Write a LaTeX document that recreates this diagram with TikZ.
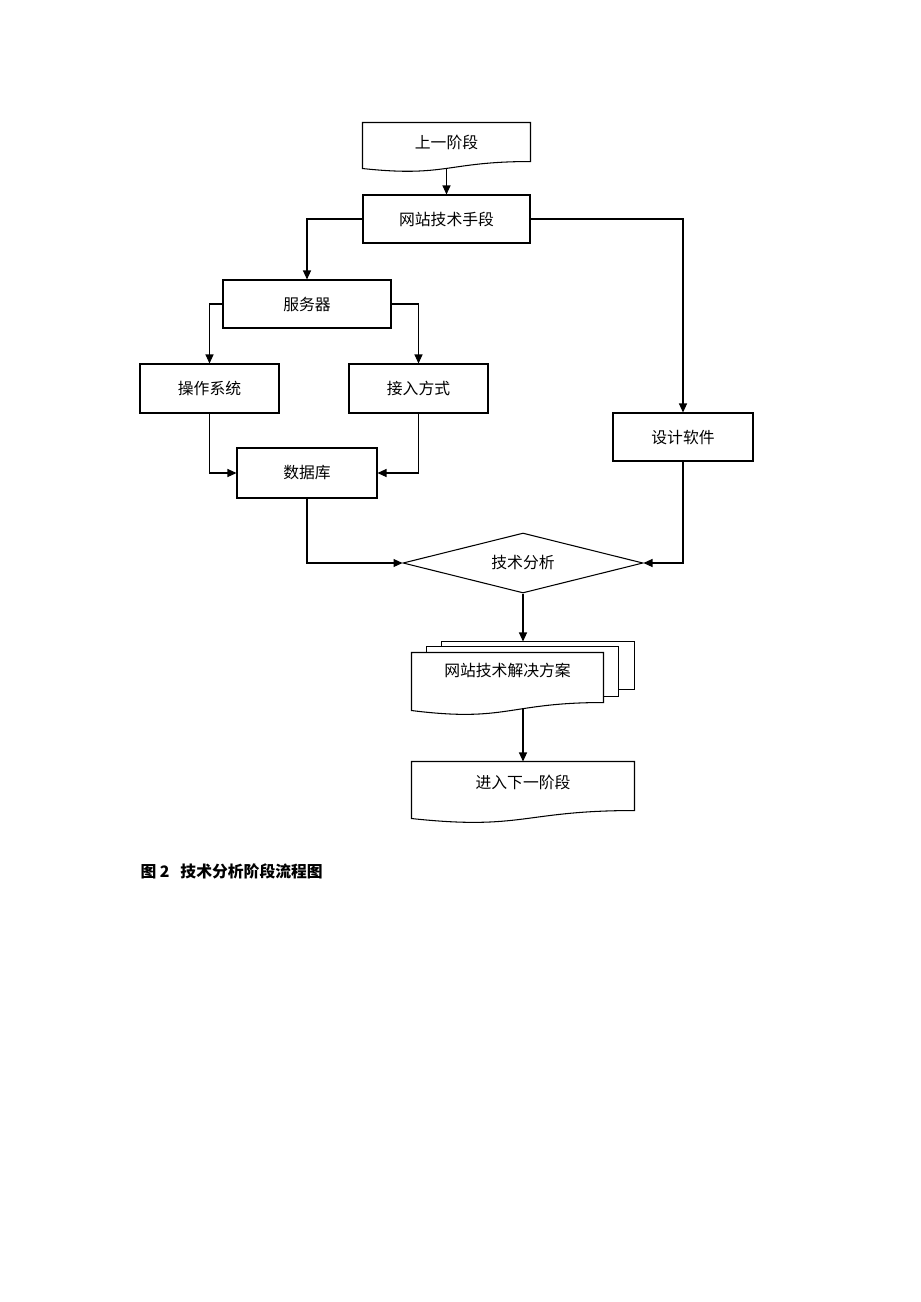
\documentclass[tikz,border=0pt]{standalone}
\usepackage{fontspec}
\setmainfont{Noto Sans CJK SC}
\usepackage{tikz}
\usetikzlibrary{arrows.meta, shapes}

% document outline: node, right drop, left drop, control drop, pos of wave point
\newcommand{\docoutline}[5]{%
  \draw (#1.north west) -- (#1.north east) -- ([yshift=-#2]#1.south east)
    .. controls ([yshift=-#2]#1.south) and ([yshift=-#4]#1.south) .. ([yshift=-#3]#1.south west)
    coordinate[pos=#5] (#1-wave) -- cycle;}

\tikzset{hv/.style={to path={-| (\tikztotarget)}},
         vh/.style={to path={|- (\tikztotarget)}}}

\begin{document}
\begin{tikzpicture}[x=0.02cm, y=-0.02cm, line width=0.6pt]
\useasboundingbox (0,0) rectangle (920,1302);
\begin{scope}[every node/.style={rectangle,draw,inner sep=0,font=\fontsize{9pt}{11pt}\selectfont}]
  \node[draw=none, minimum width=3.34cm, minimum height=0.76cm] (prev) at (446.5,142) {上一阶段};
    \node[minimum width=3.34cm, minimum height=0.96cm] (web) at (446.5,219) {网站技术手段};
    \node[minimum width=3.36cm, minimum height=0.96cm] (server) at (307,304) {服务器};
    \node[minimum width=2.78cm, minimum height=0.98cm] (os) at (209.5,388.5) {操作系统};
    \node[minimum width=2.78cm, minimum height=0.98cm] (access) at (418.5,388.5) {接入方式};
    \node[minimum width=2.8cm, minimum height=1.0cm] (db) at (307,473) {数据库};
    \node[minimum width=2.8cm, minimum height=0.96cm] (design) at (683,437) {设计软件};
    \node[shape=diamond, aspect=4, minimum width=4.8cm, minimum height=1.2cm] (analysis) at (523,563) {技术分析};
    \node[draw=none, minimum width=3.82cm, minimum height=0.68cm] (plan) at (507.5,670) {网站技术解决方案};
    \node[draw=none, minimum width=4.44cm, minimum height=0.8cm] (next) at (523,782) {进入下一阶段};
    \node[draw=none, anchor=west, font=\fontsize{9pt}{11pt}\selectfont\bfseries] (caption) at (140,871) {图 2\ \ \ 技术分析阶段流程图};
\end{scope}

\docoutline{prev}{0cm}{0.14cm}{0.32cm}{0.5}
\docoutline{plan}{0.3cm}{0.46cm}{0.7cm}{0.4}
\docoutline{next}{0.16cm}{0.32cm}{0.56cm}{0.5}
% sheets behind the plan
\draw ([shift={(15,0)}]plan.north west) -- ([shift={(15,-6)}]plan.north west)
  -- ([shift={(15,-6)}]plan.north east) -- ([shift={(15,9)}]plan.south east) -- ([shift={(0,9)}]plan.south east);
\coordinate (plan-back) at ([shift={(30,-11)}]plan.north west);
\draw ([shift={(30,-6)}]plan.north west) -- (plan-back)
  -- ([shift={(31,-11)}]plan.north east) -- ([shift={(31,2)}]plan.south east) -- ([shift={(15,2)}]plan.south east);

\begin{scope}[>={Triangle[length=1.8mm, width=1.6mm]},
              every edge/.style={draw=black, line width=0.6pt}]
    \path[->] (prev-wave) edge (web.north);
    \path[->] (web.west) edge[hv] (server.north);
    \path[->] (web.east) edge[hv] (design.north);
    \path[->] (server.west) edge[hv] (os.north);
    \path[->] (server.east) edge[hv] (access.north);
    \path[->] (os.south) edge[vh] (db.west);
    \path[->] (access.south) edge[vh] (db.east);
    \path[->] (db.south) edge[vh] (analysis.west);
    \path[->] (design.south) edge[vh] (analysis.east);
    \path[->] (analysis.south) edge (analysis.south |- plan-back);
    \path[->] (next.north |- plan-wave) edge (next.north);
\end{scope}
\end{tikzpicture}
\end{document}
